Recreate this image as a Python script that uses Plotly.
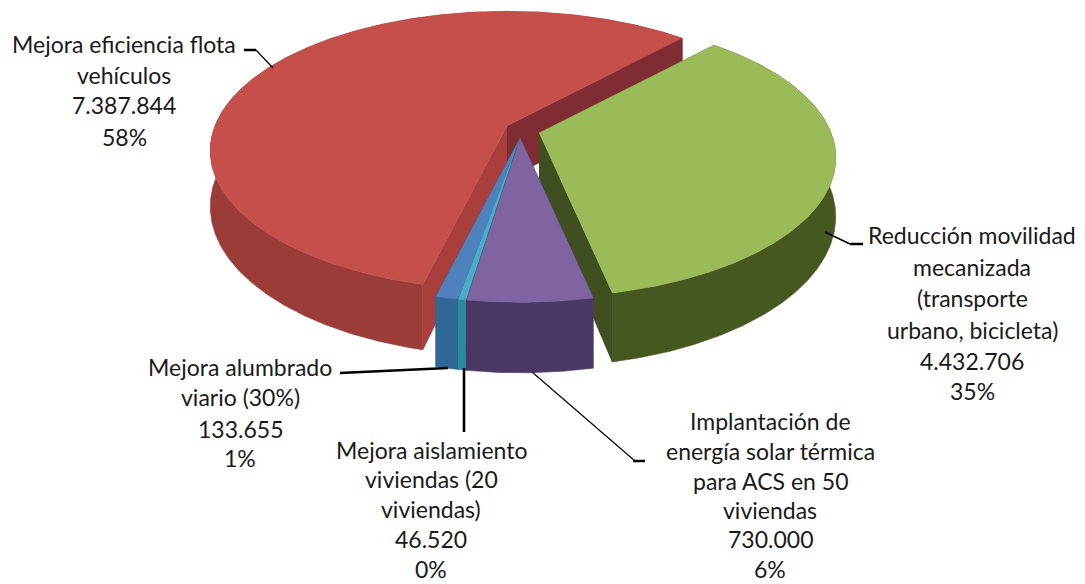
import numpy as np
import plotly.graph_objects as go

# ---- data ----
categories = ["Reducción movilidad mecanizada (transporte urbano, bicicleta)",
              "Implantación de energía solar térmica para ACS en 50 viviendas",
              "Mejora aislamiento viviendas (20 viviendas)",
              "Mejora alumbrado viario (30%)",
              "Mejora eficiencia flota vehículos"]
values = [4432706, 730000, 46520, 133655, 7387844]
value_labels = ["4.432.706", "730.000", "46.520", "133.655", "7.387.844"]
percent_labels = ["35%", "6%", "0%", "1%", "58%"]

# ---- styles ----
top_colors = ["#9BBB59", "#8064A2", "#4BACC6", "#4F81BD", "#C44F4B"]
wall_colors = ["#46571F", "#4A3866", "#2C8A9C", "#2F6796", "#9C3C39"]
edge_colors = ["#3F4F20", "#4A3866", "#2C8A9C", "#2F6796", "#A93F3C"]
back_wall_color = "#7F2D33"

# ---- projection of the tilted pie ----
START_DEG = 42.7
RX, RY, K = 292.0, 135.0, 0.178
depths = [57, 58, 58, 58, 54]
apex_x = [539, 520, 520, 520, 507]
apex_y = [133, 138, 138, 138, 126]


def project(theta, ax, ay, depth):
    u, v = np.sin(theta), np.cos(theta)
    f = 1 / (1 + K * v)
    return ax + RX * u * f, ay - RY * v * f, depth * f


def poly(fig, xs, ys, color):
    fig.add_trace(go.Scatter(x=xs, y=ys, mode="lines", fill="toself", fillcolor=color,
                             line=dict(color=color, width=0.6), hoverinfo="skip", showlegend=False))


fig = go.Figure()
shares = np.array(values) / sum(values) * 2 * np.pi
starts = np.radians(START_DEG) + np.concatenate(([0], np.cumsum(shares)[:-1]))
draw_order = [4, 0, 3, 2, 1]

for i in draw_order:
    th = np.linspace(starts[i], starts[i] + shares[i], max(6, int(np.degrees(shares[i]) * 2)))
    ax, ay = apex_x[i], apex_y[i]
    x, y, d = project(th, ax, ay, depths[i])
    ad = depths[i]
    # rim wall
    poly(fig, np.concatenate((x, x[::-1])), np.concatenate((y, (y + d)[::-1])), wall_colors[i])
    # radial walls
    for idx, col in ((0, edge_colors[i]), (-1, back_wall_color if i == 4 else edge_colors[i])):
        poly(fig, [ax, x[idx], x[idx], ax], [ay, y[idx], y[idx] + d[idx], ay + ad], col)
    # top face
    poly(fig, np.concatenate(([ax], x)), np.concatenate(([ay], y)), top_colors[i])

# ---- labels, line by line ----
label_lines = {
    4: (124, [44, 75, 105, 137], ["Mejora eficiencia flota", "vehículos"]),
    0: (972, [235, 267, 298, 330, 361, 391], ["Reducción movilidad", "mecanizada", "(transporte", "urbano, bicicleta)"]),
    1: (770, [421, 451, 481, 510, 539, 569], ["Implantación de", "energía solar térmica", "para ACS en 50", "viviendas"]),
    2: (431, [450, 479, 509, 539, 569], ["Mejora aislamiento", "viviendas (20", "viviendas)"]),
    3: (240, [367, 397, 429, 458], ["Mejora alumbrado", "viario (30%)"]),
}
for i, (cx, ys, lines) in label_lines.items():
    texts = lines + [value_labels[i], percent_labels[i]]
    for t, yy in zip(texts, ys):
        fig.add_annotation(x=cx, y=yy, text=t, showarrow=False, xanchor="center", yanchor="middle",
                           font=dict(family="Lato, Carlito, sans-serif", size=23, color="#1a1a1a"))

# ---- leader lines ----
leaders = [([244, 256], [50, 50], 2.5), ([256, 273], [50, 68], 1.2),
           ([850, 863], [244, 244], 2.5), ([825, 850], [232, 244], 1.6),
           ([633, 645], [461, 461], 2.5), ([532, 635], [372, 461], 1.2),
           ([340, 448], [373, 368], 2.4), ([464, 464], [368, 432], 2.6)]
for lx, ly, w in leaders:
    fig.add_trace(go.Scatter(x=lx, y=ly, mode="lines", line=dict(color="black", width=w),
                             hoverinfo="skip", showlegend=False))

fig.update_layout(width=1085, height=584, margin=dict(l=0, r=0, t=0, b=0),
                  paper_bgcolor="white", plot_bgcolor="white",
                  xaxis=dict(visible=False, range=[0, 1085], fixedrange=True),
                  yaxis=dict(visible=False, range=[584, 0], fixedrange=True))
fig.write_html("out.html", config=dict(displayModeBar=False),
               post_script="document.body.style.margin='0';document.documentElement.style.overflow='hidden';")
